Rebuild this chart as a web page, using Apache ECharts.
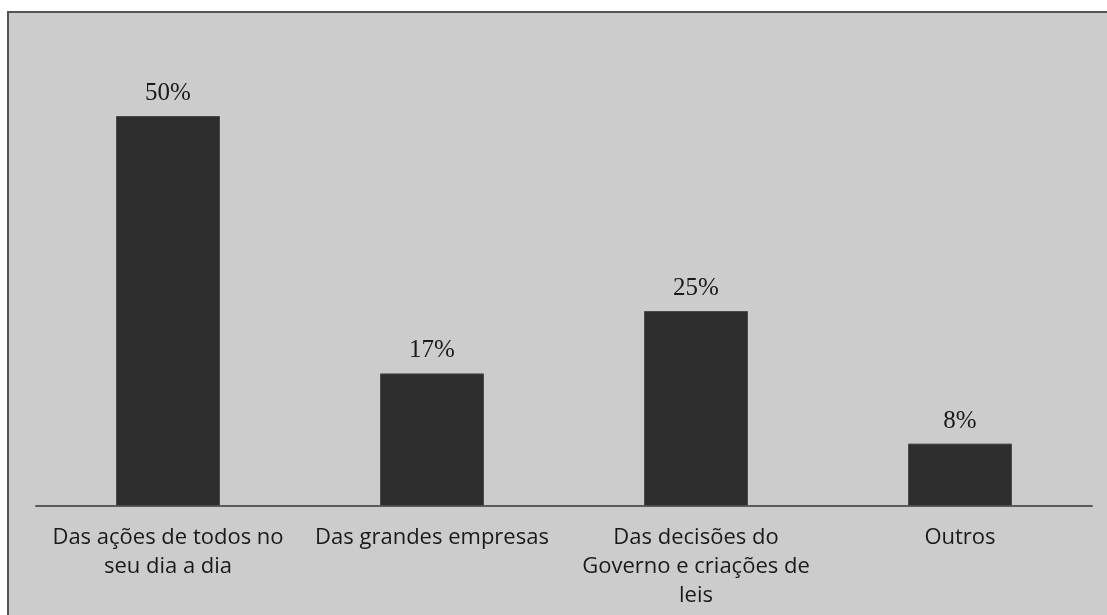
<!DOCTYPE html>
<html>
<head>
<meta charset="utf-8">
<script src="https://cdn.jsdelivr.net/npm/echarts@6/dist/echarts.min.js"></script>
<style>
  html, body { margin: 0; padding: 0; background: #ffffff; }
  #chart { width: 1107px; height: 615px; }
</style>
</head>
<body>
<div id="chart"></div>
<script>
// Respostas: de onde depende a preservação do meio ambiente
const categories = [
  'Das ações de todos no\nseu dia a dia',
  'Das grandes empresas',
  'Das decisões do\nGoverno e criações de\nleis',
  'Outros'
];
const percentages = [50, 17, 25, 8];

const chart = echarts.init(document.getElementById('chart'), null, { renderer: 'canvas' });

chart.setOption({
  backgroundColor: '#ffffff',
  animation: false,
  graphic: [{
    type: 'rect',
    z: -10,
    silent: true,
    shape: { x: 8, y: 12, width: 1120, height: 640 },
    style: { fill: '#cccccc', stroke: '#555555', lineWidth: 2 }
  }],
  grid: { left: 36, right: 15, top: 38, bottom: 109, containLabel: false },
  xAxis: {
    type: 'category',
    data: categories,
    axisLine: { show: true, lineStyle: { color: '#5a5a5a', width: 2 } },
    axisTick: { show: false },
    axisLabel: {
      interval: 0,
      margin: 17,
      color: '#1a1a1a',
      fontFamily: 'Open Sans',
      fontSize: 22,
      lineHeight: 29,
      align: 'center'
    }
  },
  yAxis: {
    type: 'value',
    min: 0,
    max: 60,
    show: false,
    splitLine: { show: false }
  },
  series: [{
    type: 'bar',
    data: percentages,
    barWidth: 104,
    itemStyle: { color: '#2e2e2e', borderColor: '#4a4a4a', borderWidth: 1 },
    label: {
      show: true,
      position: 'top',
      distance: 10,
      formatter: p => p.value + '%',
      color: '#1a1a1a',
      fontFamily: 'Liberation Serif',
      fontSize: 25
    }
  }]
});
</script>
</body>
</html>
